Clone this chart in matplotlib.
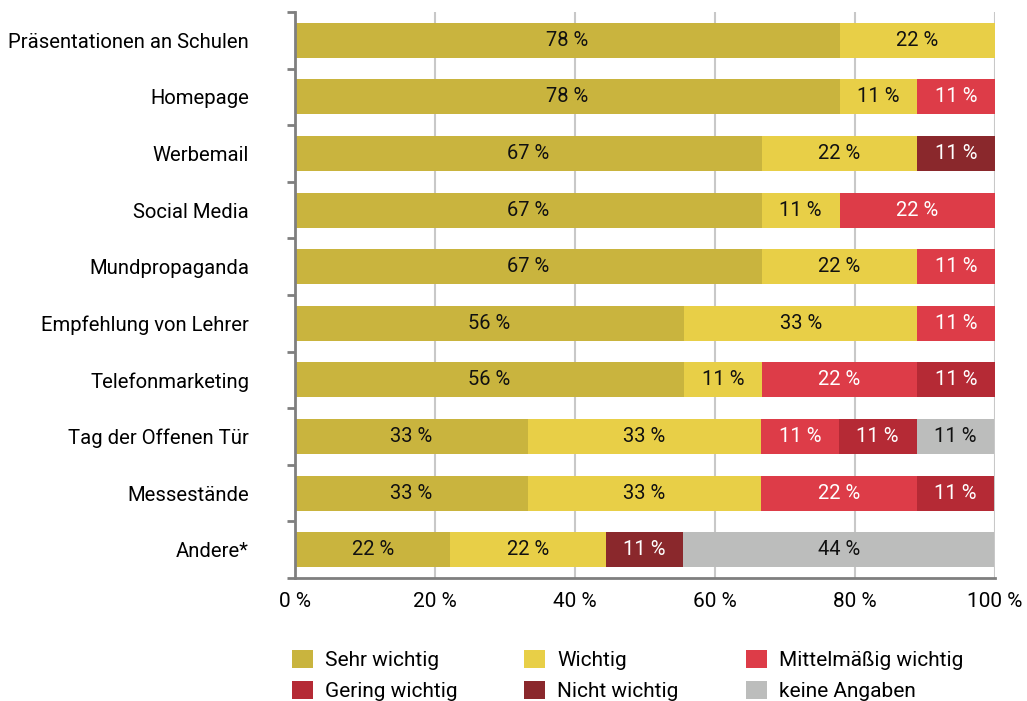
import matplotlib.pyplot as plt
import numpy as np

plt.rcParams['font.family'] = ['Roboto', 'DejaVu Sans']

categories = ['Präsentationen an Schulen', 'Homepage', 'Werbemail', 'Social Media',
              'Mundpropaganda', 'Empfehlung von Lehrer', 'Telefonmarketing',
              'Tag der Offenen Tür', 'Messestände', 'Andere*']

series_names = ['Sehr wichtig', 'Wichtig', 'Mittelmäßig wichtig',
                'Gering wichtig', 'Nicht wichtig', 'keine Angaben']

sehr_wichtig = [77.8, 77.8, 66.7, 66.7, 66.7, 55.6, 55.6, 33.3, 33.3, 22.2]
wichtig = [22.2, 11.1, 22.2, 11.1, 22.2, 33.3, 11.1, 33.3, 33.3, 22.2]
mittel = [0, 11.1, 0, 22.2, 11.1, 11.1, 22.2, 11.1, 22.2, 0]
gering = [0, 0, 0, 0, 0, 0, 11.1, 11.1, 11.1, 0]
nicht = [0, 0, 11.1, 0, 0, 0, 0, 0, 0, 11.1]
keine = [0, 0, 0, 0, 0, 0, 0, 11.1, 0, 44.4]

colors = ['#C9B43E', '#E8CF47', '#DD3C48', '#B52A35', '#8A282C', '#BCBDBC']
text_colors = ['#111111', '#111111', 'white', 'white', 'white', '#111111']

fig = plt.figure(figsize=(10.27, 7.01), dpi=100)
ax = fig.add_axes([0.2872, 0.1755, 0.6816, 0.8074])

y = np.arange(len(categories))
left = np.zeros(len(categories))
containers = []
for name, vals, col, tcol in zip(series_names, [sehr_wichtig, wichtig, mittel, gering, nicht, keine],
                                 colors, text_colors):
    vals = np.array(vals)
    bc = ax.barh(y, vals, left=left, height=0.62, color=col, label=name, zorder=2)
    containers.append(bc)
    for yi, (l, v) in enumerate(zip(left, vals)):
        if v > 0:
            ax.text(l + v / 2, yi, f'{v:.0f} %', ha='center', va='center',
                    color=tcol, fontsize=14.5, zorder=3)
    left = left + vals

ax.set_xlim(0, 100)
ax.set_ylim(len(categories) - 0.5, -0.5)
ax.set_yticks(y)
ax.set_yticklabels(categories, fontsize=14.6)
ax.set_yticks(np.arange(-0.5, len(categories)), minor=True)
ax.tick_params(axis='y', which='major', length=0, pad=33)
ax.tick_params(axis='y', which='minor', length=6, width=2, color='#7F7F7F', direction='out')

ax.set_xticks([0, 20, 40, 60, 80, 100])
ax.set_xticklabels(['0 %', '20 %', '40 %', '60 %', '80 %', '100 %'], fontsize=15)
ax.tick_params(axis='x', length=0, pad=10)
ax.grid(axis='x', color='#C8C8C8', linewidth=1.5, zorder=0)

for s in ['top', 'right']:
    ax.spines[s].set_visible(False)
for s in ['left', 'bottom']:
    ax.spines[s].set_color('#7F7F7F')
    ax.spines[s].set_linewidth(2)
    ax.spines[s].set_zorder(4)

# legend: three columns placed by hand
col_x = [0.266, 0.492, 0.708]
pairs = [(0, 3), (1, 4), (2, 5)]
for cx, (a, b) in zip(col_x, pairs):
    leg = fig.legend([containers[a], containers[b]], [series_names[a], series_names[b]],
                     loc='lower left', bbox_to_anchor=(cx, -0.027), frameon=False,
                     fontsize=15, handlelength=1.0, handleheight=1.0,
                     labelspacing=0.5, handletextpad=0.6)

fig.savefig('out.png', dpi=100)
